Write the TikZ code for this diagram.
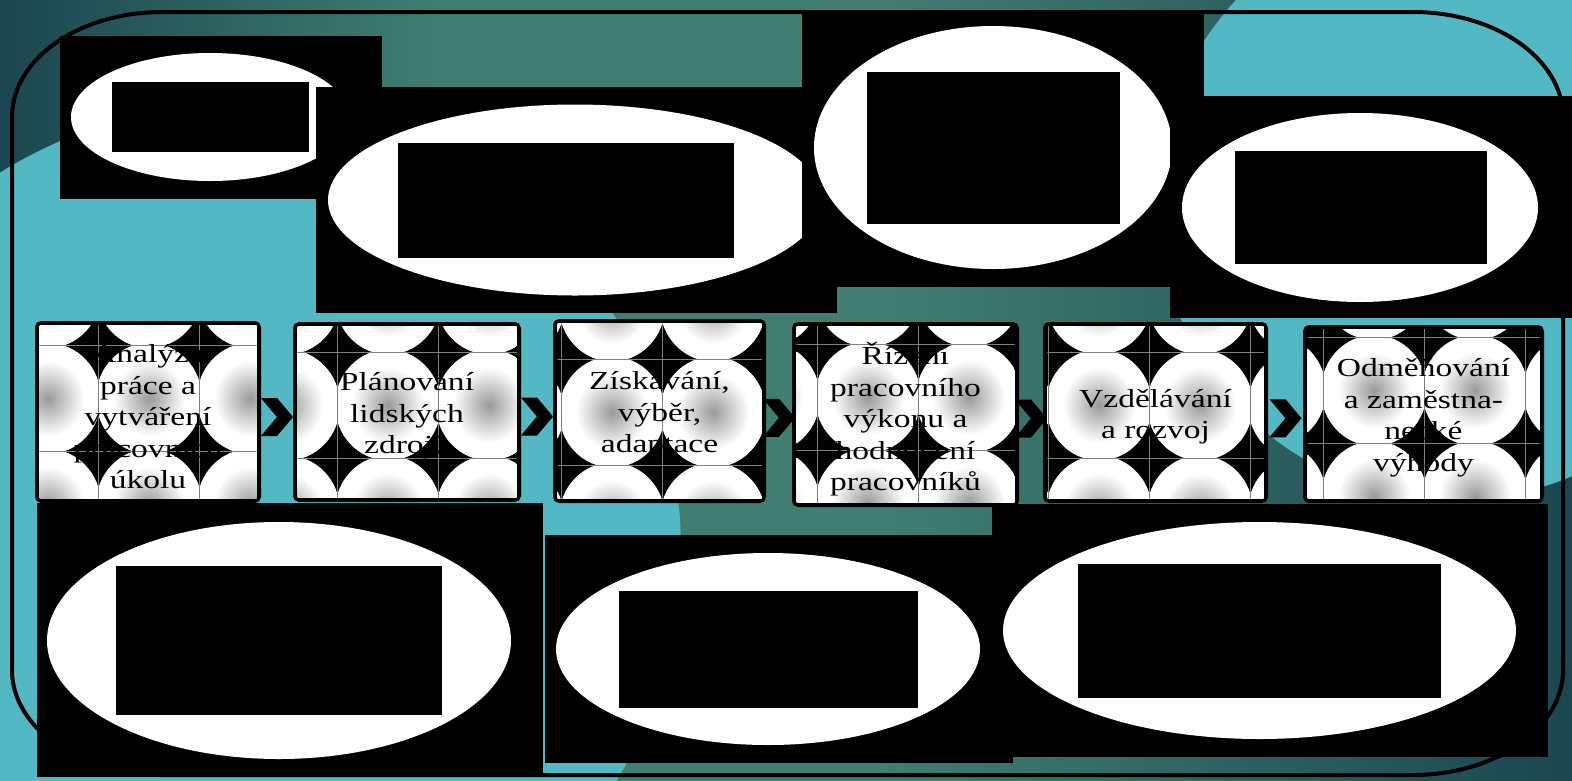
\documentclass[tikz,border=0pt]{standalone}
\usepackage{fontspec}
\newfontfamily\boxfont[FakeStretch=1.29]{Liberation Serif}
\usetikzlibrary{shapes.geometric,shapes.symbols,calc}
\definecolor{seateal}{RGB}{82,184,195}
\definecolor{deepteal}{RGB}{27,70,80}
\definecolor{mossteal}{RGB}{64,126,113}
\pgfdeclareradialshading{tileglow}{\pgfpointorigin}{color(0bp)=(black!40); color(5bp)=(black!28); color(17bp)=(white); color(50bp)=(white)}
\pgfdeclarehorizontalshading{bandglow}{100bp}{color(0bp)=(deepteal); color(25bp)=(deepteal); color(39bp)=(mossteal); color(53bp)=(mossteal); color(75bp)=(deepteal); color(100bp)=(deepteal)}

\begin{document}
\begin{tikzpicture}[x=1pt,y=-1pt,
    blk/.style={fill=black,inner sep=0pt},
    oval/.style={ellipse,fill=white,inner sep=0pt},
    procbox/.style={draw=black,line width=5pt,fill=black,rounded corners=4pt,inner sep=0pt},
    steptext/.style={align=center,inner sep=0pt,font=\boxfont\fontsize{26}{31.5}\selectfont},
    seam/.style={black!50,line width=0.5pt},
    chev/.style={signal,signal to=east,signal from=west,fill=black,inner sep=0pt,
      minimum width=32pt,minimum height=38pt,signal pointer angle=100}]
  \useasboundingbox (0,0) rectangle (1572,780);
  % background
  \begin{scope}
    \clip (0,0) rectangle (1572,780);
    \shade[shading=bandglow] (0,0) rectangle (1572,780);
    \fill[seateal] (236,550) circle [radius=445];
    \fill[seateal] (1455,202) circle [radius=298];
  \end{scope}
  % frame
  \draw[line width=4pt] (162,12) -- (1413,12) arc[start angle=-90,end angle=0,x radius=150,y radius=105]
    -- (1563,670) arc[start angle=0,end angle=90,x radius=150,y radius=105]
    -- (162,775) arc[start angle=90,end angle=180,x radius=150,y radius=105]
    -- (12,117) arc[start angle=180,end angle=270,x radius=150,y radius=105] -- cycle;
  % picture placeholders
  \foreach \n/\x/\y/\w/\h/\ex/\ey/\ew/\eh/\ix/\iw/\ih in {
      A/221/117.5/322/163/-11/-0.5/278/128/0/197/70,
      B/576.5/200/521/226/-1.5/0/494/191/-9/336/115,
      C/1003/150/402/274/-10/-2.5/358/243/0/253/152,
      D/1371/207/402/222/-11/0.5/356/189/1/252/113,
      E/290/640/506/274/-11/0.5/464/237/0/326/149,
      F/779/649/468/228/-11/0/424/192/0/299/117,
      G/1270/630.5/556/253/-10.5/0/513/217/0/363/134}{
    \node[blk,minimum width=\w pt,minimum height=\h pt] (pic\n) at (\x,\y) {};
    \node[oval,minimum width=\ew pt,minimum height=\eh pt] (ov\n) at ([shift={(\ex,\ey)}]pic\n.center) {};
    \node[blk,minimum width=\iw pt,minimum height=\ih pt] (in\n) at ([shift={(\ix,0)}]ov\n.center) {};
  }
  % process steps: box, tiled pattern
  \foreach \k/\x/\y/\w/\h/\dx/\dy in {
      1/148/412/221/177/1/-13.5,
      2/407/412/223/175/-19/-7,
      3/659.5/411/208/179/-47.5/1,
      4/905.5/414.5/222/180/-37.5/-17,
      5/1155.5/412.5/220/176/-56.5/-7.5,
      6/1423.5/414/236/173/-49.5/-23.5}{
    \node[procbox,minimum width=\w pt,minimum height=\h pt] (s\k) at (\x,\y) {};
    \begin{scope}
      \clip ([shift={(4.5,4.5)}]s\k.north west) rectangle ([shift={(-4.5,-4.5)}]s\k.south east);
      \foreach \i in {-2,...,2}
        \foreach \j in {-2,...,2}{
          \pgfmathsetmacro{\cx}{\x+\dx+101*\i}
          \pgfmathsetmacro{\cy}{\y+\dy+106*\j}
          \begin{scope}
            \clip (\cx-50.5,\cy-53) rectangle (\cx+50.5,\cy+53);
            \shade[shading=tileglow] (\cx,\cy) ellipse [x radius=53,y radius=55.5];
          \end{scope}
          \draw[seam] (\cx-50.5,\cy-53) rectangle (\cx+50.5,\cy+53);
        }
    \end{scope}
  }
  \node[steptext] (t1) at ([yshift=-5pt]s1.center) {Analýza\\práce a\\vytváření\\pracovních\\úkolu};
  \node[steptext] (t2) at ([yshift=-4pt]s2.center) {Plánování\\lidských\\zdrojů};
  \node[steptext] (t3) at ([yshift=-4pt]s3.center) {Získávání,\\výběr,\\adaptace};
  \node[steptext] (t4) at ([yshift=-5pt]s4.center) {Řízení\\pracovního\\výkonu a\\hodnocení\\pracovníků};
  \node[steptext] (t5) at ([yshift=-4pt]s5.center) {Vzdělávání\\a rozvoj};
  \node[steptext] (t6) at ([yshift=-4pt]s6.center) {Odměňování\\a zaměstna-\\necké\\výhody};
  \foreach \a/\b in {1/2,2/3,3/4,4/5,5/6}
    \node[chev] (ar\a\b) at ([yshift=-5pt]$(s\a.east)!.5!(s\b.west)$) {};
\end{tikzpicture}
\end{document}
